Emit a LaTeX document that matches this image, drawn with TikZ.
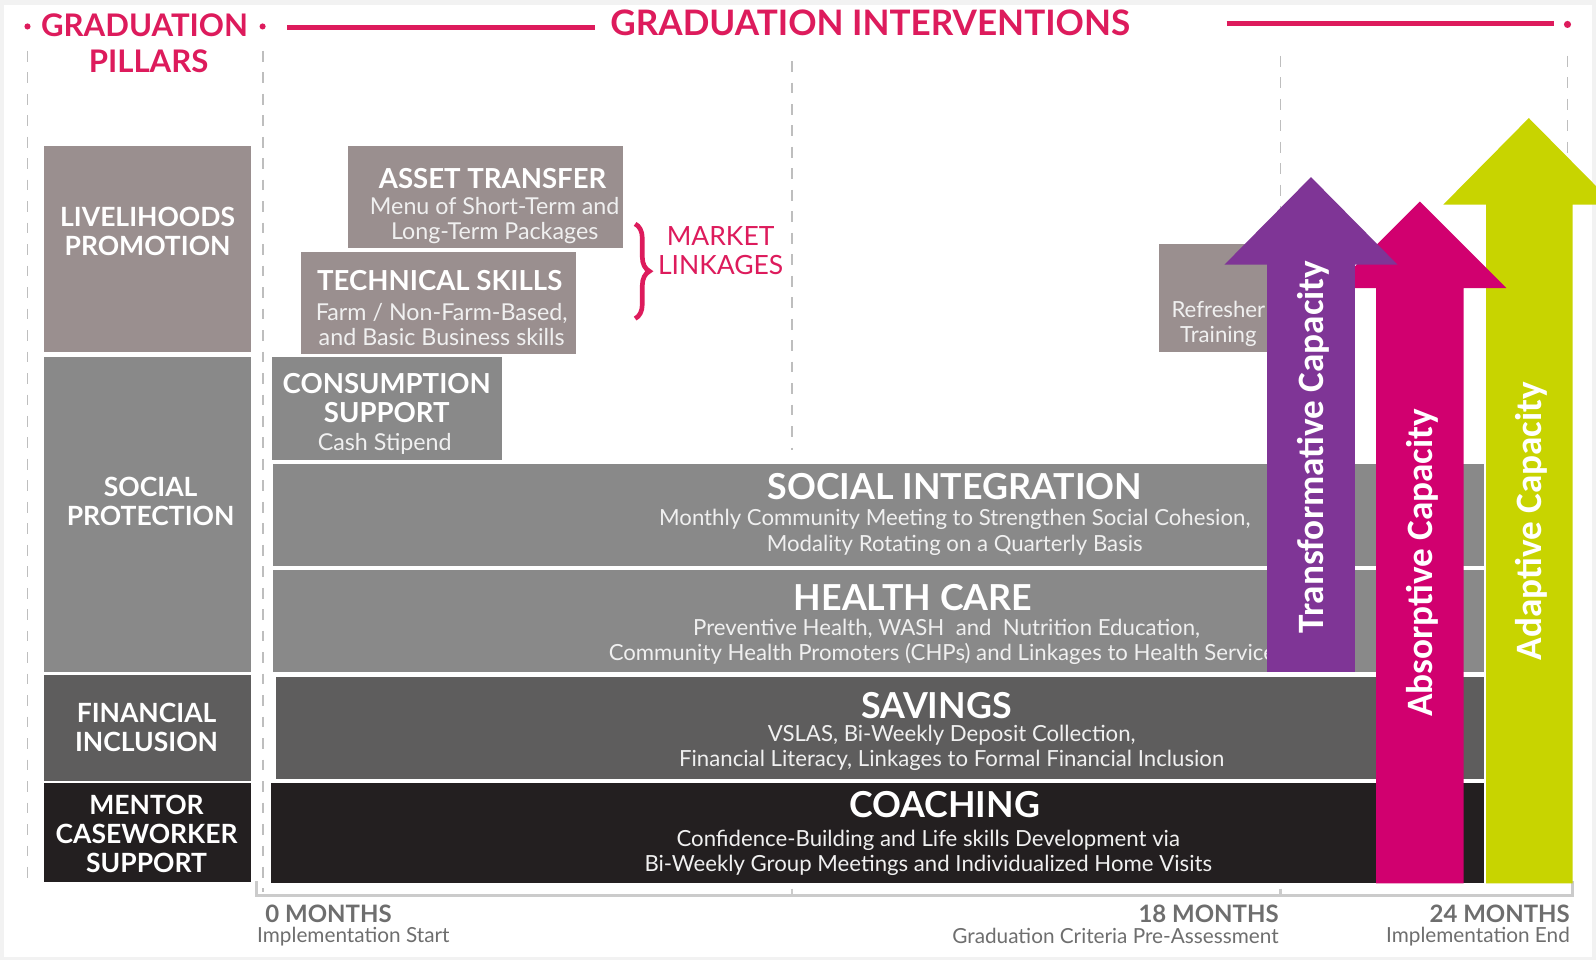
\documentclass[tikz,border=0pt]{standalone}
\usepackage{fontspec}
\setmainfont{Lato}
\newfontfamily\arrowfont{Carlito}
\usetikzlibrary{decorations.pathreplacing}
\definecolor{gradred}{RGB}{221,27,92}
\definecolor{mauve}{RGB}{154,143,143}
\definecolor{midgray}{RGB}{137,137,137}
\definecolor{slate}{RGB}{94,93,93}
\definecolor{nearblack}{RGB}{35,31,32}
\definecolor{trpurple}{RGB}{127,53,150}
\definecolor{abpink}{RGB}{209,0,111}
\definecolor{adgreen}{RGB}{200,212,0}
\definecolor{guidegray}{RGB}{190,190,190}
\definecolor{axisgray}{RGB}{110,110,110}
\definecolor{bggray}{RGB}{242,242,242}

\begin{document}
\begin{tikzpicture}[x=0.01cm,y=-0.01cm,inner sep=0pt,
  hd/.style={text=gradred,font=\fontsize{9.8}{11}\selectfont\bfseries},
  pil/.style={text=white,align=center,font=\fontsize{7.4}{8.1}\selectfont\bfseries},
  ttl/.style={text=white,font=\fontsize{10}{11}\selectfont\bfseries},
  sttl/.style={text=white,align=center,font=\fontsize{7.7}{8.2}\selectfont\bfseries},
  subtxt/.style={text=white!94!black,align=center,font=\fontsize{6.2}{7}\selectfont},
  capword/.style={text=white,rotate=90,font=\arrowfont\fontsize{10.4}{11}\selectfont\bfseries},
  mon/.style={text=axisgray,font=\fontsize{6.7}{7}\selectfont\bfseries},
  monsub/.style={text=axisgray,font=\fontsize{5.8}{6}\selectfont},
  guide/.style={draw=guidegray,dashed,line width=0.5pt}]
\useasboundingbox (0,0) rectangle (1568,943);
\clip (0,0) rectangle (1568,943);
\fill[bggray] (0,0) rectangle (1568,943);
\fill[white] (4,5) rectangle (1564,940);
% headers
\node[hd,font=\fontsize{8.7}{10}\selectfont\bfseries] (pillhd) at (142,25) {GRADUATION};
\fill[gradred] (27,26) circle[radius=3] (258,26) circle[radius=3];
\node[hd,font=\fontsize{8.7}{10}\selectfont\bfseries] (pillhd2) at (146,60) {PILLARS};
\node[hd] (intvhd) at (855,22) {GRADUATION INTERVENTIONS};
\draw[gradred,line width=1.3pt] (282,27) -- (585,27);
\draw[gradred,line width=1.3pt] (1205,23) -- (1527,23);
\fill[gradred] (1540,24) circle[radius=3.5];
% guides
\draw[guide] (27,50) -- (27,870);
\draw[guide] (258,50) -- (258,876);
\draw[guide] (778,60) -- (778,442);
\draw[guide] (1258,55) -- (1258,240);
\draw[guide] (1540,55) -- (1540,866);
% time axis
\draw[guidegray!80,line width=1pt] (252,866) -- (252,880) -- (1545,880) -- (1545,866);
\draw[guidegray!80,line width=0.6pt] (778,873) -- (778,880) (1258,873) -- (1258,880);
% pillars
\fill[mauve] (43,143) rectangle (247,346);
\fill[midgray] (43,351) rectangle (247,660);
\fill[slate] (43,663) rectangle (247,767);
\fill[nearblack] (43,769) rectangle (247,867);
\node[pil] (live) at (145,227) {LIVELIHOODS\\PROMOTION};
\node[pil] (soc) at (148,493) {SOCIAL\\PROTECTION};
\node[pil] (fin) at (144,715) {FINANCIAL\\INCLUSION};
\node[pil] (ment) at (144,819) {MENTOR\\CASEWORKER\\SUPPORT};
% interventions
\fill[mauve] (342,143) rectangle (612,244);
\fill[mauve] (296,248) rectangle (566,348);
\fill[midgray] (267,351) rectangle (493,452);
\fill[midgray] (268,456) rectangle (1458,556);
\fill[midgray] (268,560) rectangle (1458,660);
\fill[slate] (271,665) rectangle (1458,765);
\fill[nearblack] (266,769) rectangle (1458,868);
\fill[mauve] (1139,240) rectangle (1262,346);
\node[sttl] (asset) at (484,175) {ASSET TRANSFER};
\node[subtxt,font=\fontsize{6.5}{7}\selectfont] (assetsub) at (486,217) {Menu of Short-Term and\\Long-Term Packages};
\node[sttl] (tech) at (432,276) {TECHNICAL SKILLS};
\node[subtxt,font=\fontsize{6.5}{7}\selectfont] (techsub) at (434,319) {Farm / Non-Farm-Based,\\and Basic Business skills};
\node[sttl] (cons) at (380,391) {CONSUMPTION\\SUPPORT};
\node[subtxt,font=\fontsize{6.5}{7}\selectfont] (conssub) at (378,436) {Cash Stipend};
\draw[gradred,line width=1.3pt,decorate,decoration={brace,amplitude=4pt}] (624,220) -- (624,313);
\node[text=gradred,align=center,font=\fontsize{7.4}{8.2}\selectfont] (market) at (708,246) {MARKET\\LINKAGES};
\node[ttl] (socint) at (938,478) {SOCIAL INTEGRATION};
\node[subtxt] (socintsub) at (938,523) {Monthly Community Meeting to Strengthen Social Cohesion,\\Modality Rotating on a Quarterly Basis};
\node[ttl] (health) at (897,587) {HEALTH CARE};
\node[subtxt] (healthsub) at (930,631) {Preventive Health, WASH\ \ and\ \ Nutrition Education,\\Community Health Promoters (CHPs) and Linkages to Health Services};
\node[ttl] (sav) at (920,693) {SAVINGS};
\node[subtxt] (savsub) at (935,735) {VSLAS, Bi-Weekly Deposit Collection,\\Financial Literacy, Linkages to Formal Financial Inclusion};
\node[ttl] (coach) at (928,790) {COACHING};
\node[subtxt] (coachsub) at (912,838) {Confidence-Building and Life skills Development via\\Bi-Weekly Group Meetings and Individualized Home Visits};
\node[subtxt] (refr) at (1197,318) {Refresher\\Training};
% capacity arrows
\fill[adgreen] (1460,868) -- (1460,201) -- (1418,201) -- (1502,116) -- (1586,201) -- (1545,201) -- (1545,868) -- cycle;
\fill[abpink] (1352,868) -- (1352,283) -- (1310,283) -- (1395,198) -- (1480,283) -- (1438,283) -- (1438,868) -- cycle;
\fill[trpurple] (1245,660) -- (1245,260) -- (1203,260) -- (1288,174) -- (1373,260) -- (1331,260) -- (1331,660) -- cycle;
\node[capword] (trans) at (1290,439) {Transformative Capacity};
\node[capword] (absorb) at (1397,553) {Absorptive Capacity};
\node[capword] (adapt) at (1504,512) {Adaptive Capacity};
% time labels
\node[mon,anchor=west] (m0) at (260,898) {0 MONTHS};
\node[monsub,anchor=west] (m0s) at (252,920) {Implementation Start};
\node[mon,anchor=east] (m18) at (1257,898) {18 MONTHS};
\node[monsub,anchor=east] (m18s) at (1257,920) {Graduation Criteria Pre-Assessment};
\node[mon,anchor=east] (m24) at (1543,898) {24 MONTHS};
\node[monsub,anchor=east] (m24s) at (1543,920) {Implementation End};
\end{tikzpicture}
\end{document}
